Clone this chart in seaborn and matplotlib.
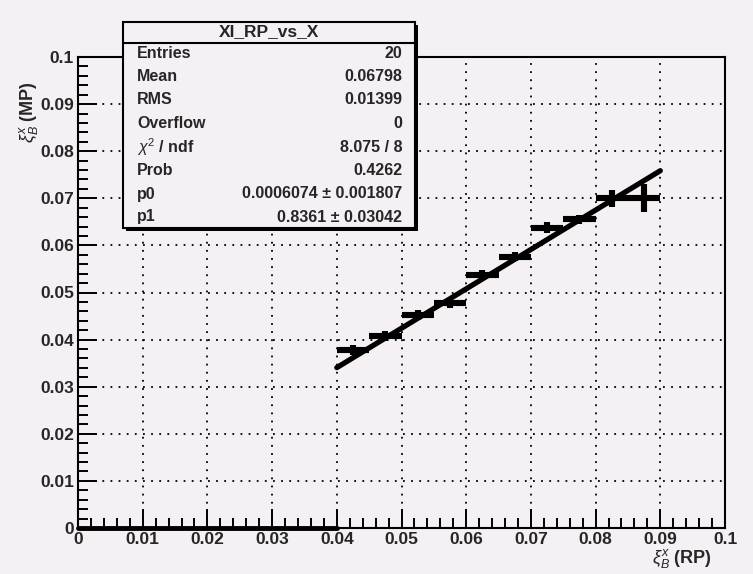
import numpy as np
import pandas as pd
import matplotlib
matplotlib.use("Agg")
import matplotlib.pyplot as plt
from matplotlib.patches import Rectangle
from matplotlib.ticker import MultipleLocator
import seaborn as sns

# Profile bins: centre, half width, mean and error of xi (MP)
bin_centers = [0.0425, 0.0475, 0.0525, 0.0575, 0.0625, 0.0675, 0.0725, 0.0775, 0.0825, 0.0875]
bin_half_width = 0.0025
profile_mean = [0.0378, 0.0408, 0.0452, 0.0477, 0.0537, 0.0576, 0.0638, 0.0655, 0.0700, 0.0700]
profile_err = [0.0010, 0.0010, 0.0010, 0.0010, 0.0010, 0.0010, 0.0012, 0.0010, 0.0018, 0.0030]

# Linear fit result (pol1)
fit_p0 = 0.0006074
fit_p1 = 0.8361
fit_range = [0.040, 0.090]

# Statistics box
stats_title = "XI_RP_vs_X"
stats_labels = ["Entries", "Mean", "RMS", "Overflow", r"$\chi^2$ / ndf", "Prob", "p0", "p1"]
stats_values = ["20", "0.06798", "0.01399", "0", "8.075 / 8", "0.4262",
                "0.0006074 \u00b1 0.001807", "0.8361 \u00b1 0.03042"]

axis_ticks = [0, 0.01, 0.02, 0.03, 0.04, 0.05, 0.06, 0.07, 0.08, 0.09, 0.1]
tick_labels = ["0", "0.01", "0.02", "0.03", "0.04", "0.05", "0.06", "0.07", "0.08", "0.09", "0.1"]

bg = "#f4f0f4"
sns.set_theme(style="ticks")
plt.rcParams["font.family"] = ["Liberation Sans", "DejaVu Sans"]
plt.rcParams["mathtext.fontset"] = "custom"
plt.rcParams["mathtext.rm"] = "Liberation Sans"
plt.rcParams["mathtext.it"] = "Liberation Sans:italic"

W, H = 753, 574
fig = plt.figure(figsize=(W / 100, H / 100), dpi=100, facecolor=bg)
L, R, T, B = 78, 725, 57, 528
ax = fig.add_axes([L / W, 1 - B / H, (R - L) / W, (B - T) / H])
ax.set_facecolor(bg)

profile = pd.DataFrame({"x": bin_centers, "y": profile_mean, "err": profile_err})
ax.errorbar(profile["x"], profile["y"], xerr=bin_half_width, yerr=profile["err"],
            fmt="none", ecolor="black", elinewidth=4.4, capsize=0, zorder=3)

fit_x = np.linspace(fit_range[0], fit_range[1], 50)
fit = pd.DataFrame({"x": fit_x, "y": fit_p0 + fit_p1 * fit_x})
sns.lineplot(data=fit, x="x", y="y", ax=ax, color="black", linewidth=3.8, zorder=4)

ax.set_xlim(0, 0.1)
ax.set_ylim(0, 0.1)
ax.set_xticks(axis_ticks)
ax.set_xticklabels(tick_labels)
ax.set_yticks(axis_ticks)
ax.set_yticklabels(tick_labels)
ax.xaxis.set_minor_locator(MultipleLocator(0.002))
ax.yaxis.set_minor_locator(MultipleLocator(0.002))
ax.tick_params(which="major", direction="in", length=14, width=1.4, color="black",
               labelsize=12.5, pad=3, top=False, right=False)
ax.tick_params(which="minor", direction="in", length=7, width=1.4, color="black",
               top=False, right=False)
for lab in ax.get_xticklabels() + ax.get_yticklabels():
    lab.set_fontweight("bold")
for s in ax.spines.values():
    s.set_visible(True)
    s.set_color("black")
    s.set_linewidth(1.5)
# heavier stroke along the lower axis start
ax.axhline(0, xmin=0, xmax=0.4, color="black", linewidth=3.5, clip_on=False, zorder=5)
ax.grid(True, which="major", color="black", linestyle=(0, (1, 3.5)), linewidth=1.3)
ax.set_xlabel("")
ax.set_ylabel("")

fig.text(712 / W, 1 - 558 / H, r"$\xi^{x}_{B}$ (RP)", ha="right", va="center",
         fontsize=13, fontweight="bold")
fig.text(28 / W, 1 - 112 / H, r"$\xi^{x}_{B}$ (MP)", ha="center", va="center",
         rotation=90, fontsize=13, fontweight="bold")

# Statistics box with shadow
bx0, bx1, by0, by1 = 123, 415, 22, 228
fig.patches.append(Rectangle(((bx0 + 3) / W, 1 - (by1 + 3) / H), (bx1 - bx0) / W, (by1 - by0) / H,
                             transform=fig.transFigure, facecolor="black", edgecolor="none", zorder=5))
fig.patches.append(Rectangle((bx0 / W, 1 - by1 / H), (bx1 - bx0) / W, (by1 - by0) / H,
                             transform=fig.transFigure, facecolor=bg, edgecolor="black",
                             linewidth=1.5, zorder=6))
fig.lines.append(plt.Line2D([bx0 / W, bx1 / W], [1 - 43 / H, 1 - 43 / H],
                            transform=fig.transFigure, color="black", linewidth=1.5, zorder=7))
fig.text((bx0 + bx1) / 2 / W, 1 - 32 / H, stats_title, ha="center", va="center",
         fontsize=12.5, fontweight="bold", zorder=8)
row_y = [53, 76.5, 100, 123.5, 147, 170.5, 194, 217]
for yy, lab, val in zip(row_y, stats_labels, stats_values):
    fig.text(137 / W, 1 - yy / H, lab, ha="left", va="center", fontsize=11.5,
             fontweight="bold", zorder=8)
    fig.text(402 / W, 1 - yy / H, val, ha="right", va="center", fontsize=11.5,
             fontweight="bold", zorder=8)

fig.savefig("out.png", dpi=100, facecolor=bg)
